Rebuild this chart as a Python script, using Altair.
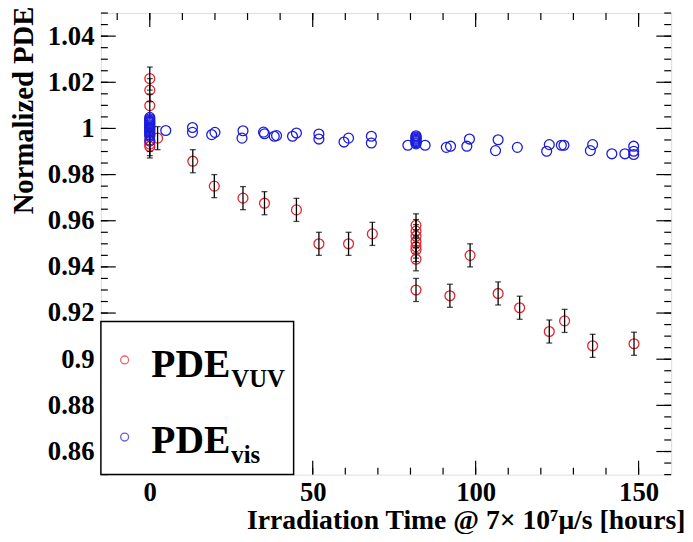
import altair as alt
import pandas as pd

# ---------------- data ----------------
vuv_t = [0, 0, 0, 0, 0, 0, 2.4, 13.2, 19.8, 28.6, 35.2, 45.0, 51.9, 61.0, 68.3,
         81.7, 81.7, 81.7, 81.7, 81.7, 81.7, 81.7, 81.7,
         92.1, 98.3, 106.9, 113.5, 122.6, 127.3, 135.9, 148.6]
vuv_pde = [1.0216, 1.0166, 1.0099, 0.9950, 0.9932, 0.9922, 0.9958, 0.9858, 0.9750,
           0.9698, 0.9676, 0.9647, 0.9500, 0.9500, 0.9543,
           0.9580, 0.9555, 0.9533, 0.9510, 0.9488, 0.9473, 0.9433, 0.9300,
           0.9275, 0.9450, 0.9285, 0.9223, 0.9120, 0.9166, 0.9058, 0.9067]
vuv_err = [0.005] * len(vuv_t)

vis_t = [0, 0, 0, 0, 0, 0, 0, 0, 0, 0, 0, 0, 0, 0, 0, 0, 0,
         4.9, 13.1, 13.1, 19.0, 20.0, 28.6, 28.3, 34.9, 35.2, 38.2, 38.9, 43.8, 45.0,
         51.9, 51.9, 59.6, 61.0, 68.0, 68.0, 79.2,
         81.7, 81.7, 81.7, 81.7, 81.7, 81.7, 81.7, 81.7,
         84.5, 91.0, 92.3, 97.3, 98.1, 106.1, 106.9, 112.8, 121.8, 122.6,
         126.3, 127.1, 135.2, 135.9, 141.8, 145.8, 148.5, 148.5, 148.5]
vis_pde = [1.0048, 1.0042, 1.0036, 1.0031, 1.0026, 1.0021, 1.0016, 1.0011, 1.0006,
           1.0001, 0.9996, 0.9991, 0.9985, 0.9979, 0.9972, 0.9966, 0.9945,
           0.9991, 1.0004, 0.9983, 0.9973, 0.9983, 0.9990, 0.9958, 0.9984, 0.9977,
           0.9966, 0.9969, 0.9966, 0.9980, 0.9976, 0.9954, 0.9941, 0.9958, 0.9966,
           0.9937, 0.9927,
           0.9968, 0.9963, 0.9958, 0.9953, 0.9948, 0.9943, 0.9938, 0.9933,
           0.9927, 0.9918, 0.9923, 0.9923, 0.9954, 0.9904, 0.9951, 0.9918, 0.9901,
           0.9930, 0.9927, 0.9927, 0.9904, 0.9930, 0.9890, 0.9890, 0.9923, 0.9901,
           0.9887]

x_labels = [0, 50, 100, 150]
y_labels = [0.86, 0.88, 0.90, 0.92, 0.94, 0.96, 0.98, 1.00, 1.02, 1.04]
x_minor = [-10, 0, 10, 20, 30, 40, 50, 60, 70, 80, 90, 100, 110, 120, 130, 140, 150]
y_minor = [round(0.85 + 0.005 * i, 3) for i in range(41)]

legend_labels = ["PDE", "PDE"]
legend_subs = ["VUV", "vis"]

# ---------------- layout / style ----------------
W, H = 577, 467
RED = "#e3242b"
BLUE = "#1c1cdc"
FONT = "Liberation Serif"

xs = alt.Scale(domain=[-15, 160], nice=False, zero=False)
ys = alt.Scale(domain=[0.85, 1.05], nice=False, zero=False)

vuv = pd.DataFrame({"t": vuv_t, "pde": vuv_pde, "err": vuv_err})
vis = pd.DataFrame({"t": vis_t, "pde": vis_pde})

x_axis = alt.Axis(values=x_labels, ticks=False, domain=False, grid=False,
                  labelFont=FONT, labelFontWeight="bold", labelFontSize=27,
                  labelColor="black", labelPadding=5, labelFlush=False,
                  title="Irradiation Time @ 7× 10⁷μ/s [hours]",
                  titleFont=FONT, titleFontWeight="bold", titleFontSize=28,
                  titleColor="black", titleAlign="right", titleAnchor="end",
                  titleX=591, titleY=55, titleBaseline="alphabetic")
y_axis = alt.Axis(values=y_labels, ticks=False, domain=False, grid=False,
                  format=".2~f",
                  labelFont=FONT, labelFontWeight="bold", labelFontSize=27,
                  labelColor="black", labelPadding=7, labelFlush=False,
                  title="Normalized PDE",
                  titleFont=FONT, titleFontWeight="bold", titleFontSize=29,
                  titleColor="black", titleAlign="right", titleAnchor="end",
                  titleAngle=270, titleX=-78, titleY=-7, titleBaseline="middle")


def X(field):
    return alt.X(field, scale=xs, axis=x_axis)


def Y(field):
    return alt.Y(field, scale=ys, axis=y_axis)


# error bars
err = alt.Chart(vuv).transform_calculate(
    lo="datum.pde - datum.err", hi="datum.pde + datum.err"
)
bars = err.mark_rule(color="black", strokeWidth=1.3).encode(
    x=X("t:Q"), y=Y("lo:Q"), y2="hi:Q")
cap_lo = err.mark_tick(color="black", orient="horizontal", size=6, thickness=1.3).encode(
    x=X("t:Q"), y=Y("lo:Q"))
cap_hi = err.mark_tick(color="black", orient="horizontal", size=6, thickness=1.3).encode(
    x=X("t:Q"), y=Y("hi:Q"))

pts_vis = alt.Chart(vis).mark_point(shape="circle", filled=False, color=BLUE,
                                    size=100, strokeWidth=1.3, opacity=1).encode(
    x=X("t:Q"), y=Y("pde:Q"))
pts_vuv = alt.Chart(vuv).mark_point(shape="circle", filled=False, color=RED,
                                    size=100, strokeWidth=1.3, opacity=1).encode(
    x=X("t:Q"), y=Y("pde:Q"))


# frame ticks (ROOT style, inward, on all four sides)
def xticks(vals, length):
    d = pd.DataFrame({"v": vals})
    top = alt.Chart(d).mark_rule(color="black", strokeWidth=1.2).encode(
        x=X("v:Q"), y=alt.value(0), y2=alt.value(length))
    bot = alt.Chart(d).mark_rule(color="black", strokeWidth=1.2).encode(
        x=X("v:Q"), y=alt.value(H), y2=alt.value(H - length))
    return [top, bot]


def yticks(vals, length):
    d = pd.DataFrame({"v": vals})
    left = alt.Chart(d).mark_rule(color="black", strokeWidth=1.2).encode(
        y=Y("v:Q"), x=alt.value(0), x2=alt.value(length))
    right = alt.Chart(d).mark_rule(color="black", strokeWidth=1.2).encode(
        y=Y("v:Q"), x=alt.value(W - length), x2=alt.value(W))
    return [left, right]


tick_layers = (xticks(x_minor, 7) + xticks(x_labels, 14)
               + yticks(y_minor, 7) + yticks(y_labels, 15))

# legend box
one = pd.DataFrame({"a": [0]})
leg_box = alt.Chart(one).mark_rect(fill="white", stroke="black", strokeWidth=1.5).encode(
    x=alt.value(0), x2=alt.value(195), y=alt.value(312), y2=alt.value(467))
leg_sym_vuv = alt.Chart(one).mark_point(shape="circle", filled=False, color=RED,
                                        size=64, strokeWidth=1.3).encode(
    x=alt.value(24), y=alt.value(351))
leg_sym_vis = alt.Chart(one).mark_point(shape="circle", filled=False, color=BLUE,
                                        size=64, strokeWidth=1.3).encode(
    x=alt.value(24), y=alt.value(429))


def leg_text(txt, x, y, size):
    return alt.Chart(one).mark_text(text=txt, font=FONT, fontWeight="bold",
                                    fontSize=size, align="left",
                                    baseline="alphabetic", color="black").encode(
        x=alt.value(x), y=alt.value(y))


leg_texts = [
    leg_text(legend_labels[0], 51, 368, 40), leg_text(legend_subs[0], 132, 378, 25),
    leg_text(legend_labels[1], 51, 445, 40), leg_text(legend_subs[1], 132, 455, 25),
]

chart = alt.layer(
    pts_vuv, bars, cap_lo, cap_hi, pts_vis, *tick_layers,
    leg_box, leg_sym_vuv, leg_sym_vis, *leg_texts
).properties(
    width=W, height=H,
    autosize=alt.AutoSizeParams(type="none"),
    padding={"left": 94, "top": 2, "right": 14, "bottom": 57},
).configure_view(
    stroke="black", strokeWidth=1.5
).configure(background="white")

chart.save("out.html", embed_options={"renderer": "svg", "actions": False})
